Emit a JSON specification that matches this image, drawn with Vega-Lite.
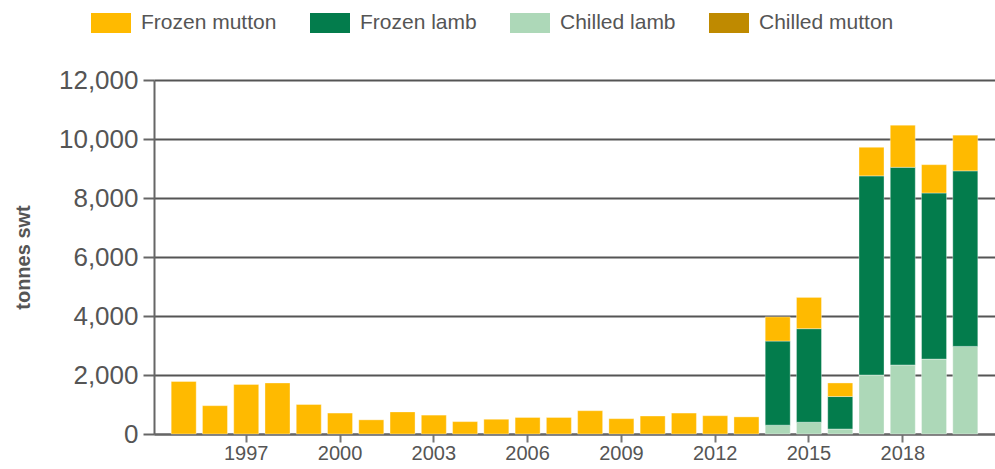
{
  "$schema": "https://vega.github.io/schema/vega-lite/v6.json",
  "autosize": {"type": "none"},
  "width": 841,
  "height": 354,
  "padding": {"left": 154, "top": 80, "right": 0, "bottom": 35},
  "background": "white",
  "config": {
    "view": {"stroke": null},
    "font": "Liberation Sans",
    "axis": {"labelColor": "#555555", "titleColor": "#555555"}
  },
  "data": {
    "values": [
      {"year": 1995, "type": "Frozen mutton", "tonnes": 1780},
      {"year": 1996, "type": "Frozen mutton", "tonnes": 960},
      {"year": 1997, "type": "Frozen mutton", "tonnes": 1680},
      {"year": 1998, "type": "Frozen mutton", "tonnes": 1730},
      {"year": 1999, "type": "Frozen mutton", "tonnes": 1000},
      {"year": 2000, "type": "Frozen mutton", "tonnes": 710},
      {"year": 2001, "type": "Frozen mutton", "tonnes": 480},
      {"year": 2002, "type": "Frozen mutton", "tonnes": 750},
      {"year": 2003, "type": "Frozen mutton", "tonnes": 640},
      {"year": 2004, "type": "Frozen mutton", "tonnes": 420},
      {"year": 2005, "type": "Frozen mutton", "tonnes": 500},
      {"year": 2006, "type": "Frozen mutton", "tonnes": 560},
      {"year": 2007, "type": "Frozen mutton", "tonnes": 560},
      {"year": 2008, "type": "Frozen mutton", "tonnes": 790},
      {"year": 2009, "type": "Frozen mutton", "tonnes": 520},
      {"year": 2010, "type": "Frozen mutton", "tonnes": 610},
      {"year": 2011, "type": "Frozen mutton", "tonnes": 710},
      {"year": 2012, "type": "Frozen mutton", "tonnes": 620},
      {"year": 2013, "type": "Frozen mutton", "tonnes": 580},
      {"year": 2014, "type": "Chilled lamb", "tonnes": 300},
      {"year": 2014, "type": "Frozen lamb", "tonnes": 2850},
      {"year": 2014, "type": "Frozen mutton", "tonnes": 820},
      {"year": 2015, "type": "Chilled lamb", "tonnes": 400},
      {"year": 2015, "type": "Frozen lamb", "tonnes": 3170},
      {"year": 2015, "type": "Frozen mutton", "tonnes": 1060},
      {"year": 2016, "type": "Chilled lamb", "tonnes": 170},
      {"year": 2016, "type": "Frozen lamb", "tonnes": 1100},
      {"year": 2016, "type": "Frozen mutton", "tonnes": 460},
      {"year": 2017, "type": "Chilled lamb", "tonnes": 2000},
      {"year": 2017, "type": "Frozen lamb", "tonnes": 6750},
      {"year": 2017, "type": "Frozen mutton", "tonnes": 970},
      {"year": 2018, "type": "Chilled lamb", "tonnes": 2340},
      {"year": 2018, "type": "Frozen lamb", "tonnes": 6700},
      {"year": 2018, "type": "Frozen mutton", "tonnes": 1430},
      {"year": 2019, "type": "Chilled lamb", "tonnes": 2540},
      {"year": 2019, "type": "Frozen lamb", "tonnes": 5630},
      {"year": 2019, "type": "Frozen mutton", "tonnes": 960},
      {"year": 2020, "type": "Chilled lamb", "tonnes": 2970},
      {"year": 2020, "type": "Frozen lamb", "tonnes": 5950},
      {"year": 2020, "type": "Frozen mutton", "tonnes": 1210}
    ]
  },
  "mark": {"type": "bar", "stroke": "white", "strokeOpacity": 0.35, "strokeWidth": 1},
  "encoding": {
    "x": {
      "field": "year",
      "type": "ordinal",
      "scale": {"domain": [1995,1996,1997,1998,1999,2000,2001,2002,2003,2004,2005,2006,2007,2008,2009,2010,2011,2012,2013,2014,2015,2016,2017,2018,2019,2020], "paddingInner": 0.2, "paddingOuter": 0.55},
      "axis": {
        "title": null,
        "values": [1997, 2000, 2003, 2006, 2009, 2012, 2015, 2018],
        "labelAngle": 0,
        "labelFontSize": 20,
        "labelPadding": 1,
        "tickSize": 8,
        "tickColor": "#777777",
        "tickWidth": 2,
        "domainColor": "#666666",
        "domainWidth": 2,
        "grid": false
      }
    },
    "y": {
      "field": "tonnes",
      "type": "quantitative",
      "aggregate": "sum",
      "scale": {"domain": [0, 12000], "nice": false},
      "axis": {
        "title": "tonnes swt",
        "titleFontSize": 20,
        "titleFontWeight": "bold",
        "titlePadding": 25,
        "values": [0, 2000, 4000, 6000, 8000, 10000, 12000],
        "format": ",.0f",
        "labelFontSize": 26,
        "labelPadding": 5,
        "tickSize": 11,
        "tickColor": "#666666",
        "tickWidth": 2,
        "domainColor": "#666666",
        "domainWidth": 2,
        "grid": true,
        "gridColor": "#555555",
        "gridWidth": 2
      }
    },
    "color": {
      "field": "type",
      "type": "nominal",
      "scale": {
        "domain": ["Frozen mutton", "Frozen lamb", "Chilled lamb", "Chilled mutton"],
        "range": ["#FFBA00", "#037C4C", "#ADD8B8", "#BF8A00"]
      },
      "legend": {
        "title": null,
        "orient": "none",
        "direction": "horizontal",
        "legendX": -63,
        "legendY": -77,
        "symbolType": "M-1,-0.5h2v1h-2z",
        "symbolSize": 1600,
        "symbolStrokeWidth": 0,
        "symbolOpacity": 1,
        "labelFontSize": 21,
        "labelColor": "#555555",
        "labelOffset": 10,
        "columnPadding": 33,
        "labelLimit": 300
      }
    },
    "order": {"field": "type", "sort": "ascending"}
  }
}
